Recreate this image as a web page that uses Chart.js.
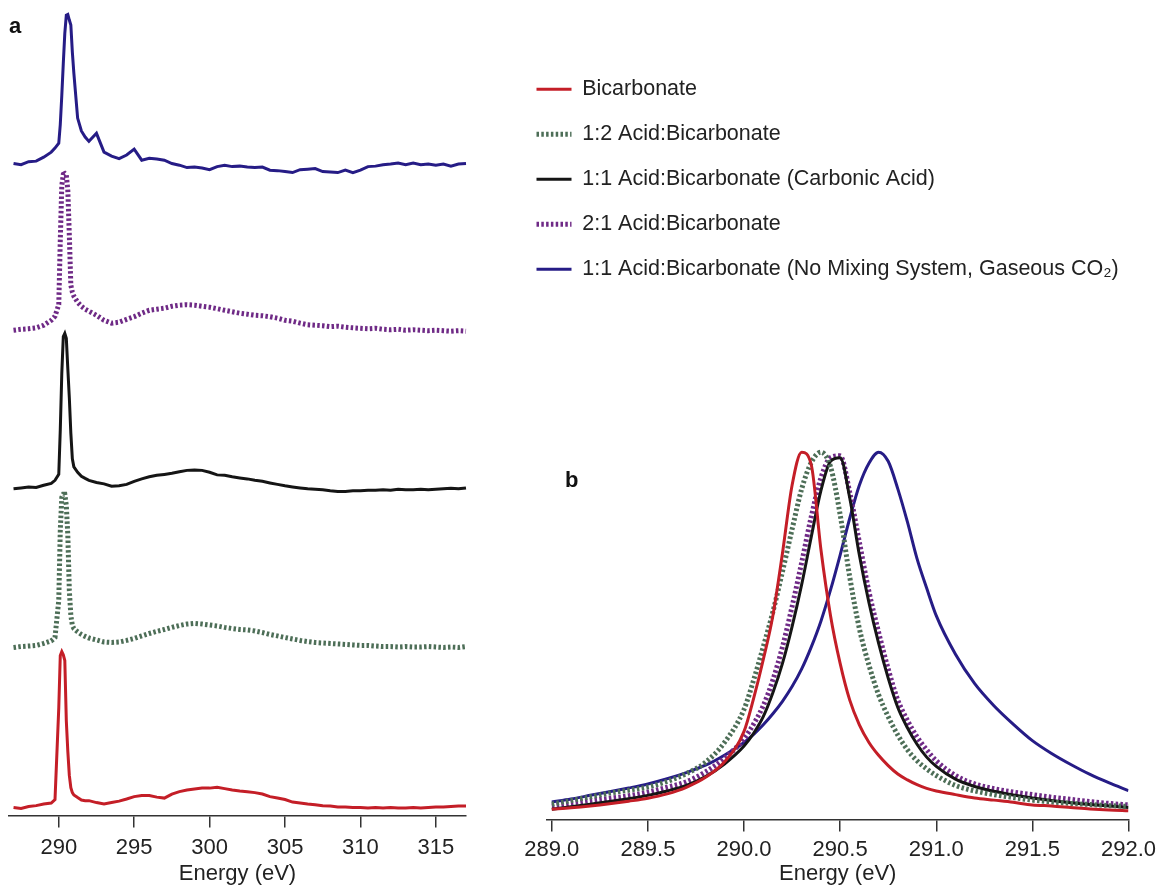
<!DOCTYPE html>
<html>
<head>
<meta charset="utf-8">
<script src="https://cdn.jsdelivr.net/npm/chart.js@4.4.1/dist/chart.umd.min.js"></script>
<style>
  body { margin: 0; background: #fff; }
  #page { position: relative; width: 1161px; height: 885px; overflow: hidden; font-family: "Liberation Sans", Arial, sans-serif; }
  canvas { position: absolute; }
  .panel { position: absolute; font-weight: bold; font-size: 22px; line-height: 22px; color: #111; }
</style>
</head>
<body>
<div id="page">
  <canvas id="spectraChart" width="480" height="885" style="left:0px;top:0px"></canvas>
  <canvas id="legendChart" width="648" height="270" style="left:513px;top:55px"></canvas>
  <canvas id="peakChart" width="661" height="455" style="left:500px;top:430px"></canvas>
  <div class="panel" style="left:9px;top:15px">a</div>
  <div class="panel" style="left:565px;top:469px">b</div>
</div>
<script>
const seriesNames = [
  "Bicarbonate",
  "1:2 Acid:Bicarbonate",
  "1:1 Acid:Bicarbonate (Carbonic Acid)",
  "2:1 Acid:Bicarbonate",
  "1:1 Acid:Bicarbonate (No Mixing System, Gaseous CO₂)",
];
const seriesColors = ["#c41e27", "#4d6e57", "#151515", "#6f2a86", "#261c86"];
const dotted = [false, true, false, true, false];

// panel a: full spectra, each trace normalised to its own band
const energyA = [287, 287.5, 288, 288.5, 289, 289.5, 289.75,
  290, 290.1, 290.2, 290.3, 290.4, 290.5, 290.6, 290.7, 290.8, 290.9, 291,
  291.25, 291.5, 291.75, 292, 292.5, 293, 293.5, 294, 294.5, 295, 295.5, 296, 296.5,
  297, 297.5, 298, 298.5, 299, 299.5, 300, 300.5, 301, 301.5, 302, 302.5, 303, 303.5,
  304, 304.5, 305, 305.5, 306, 306.5, 307, 307.5, 308, 308.5, 309, 309.5, 310, 310.5,
  311, 311.5, 312, 312.5, 313, 313.5, 314, 314.5, 315, 315.5, 316, 316.5, 317];
const bicarbA = [.050, .044, .056, .062, .072, .078, .100,
  .67, .996, 1.02, 1.0, .965, .59, .40, .25, .174, .143, .128,
  .112, .097, .093, .093, .081, .072, .081, .090, .103, .118, .125, .125, .115,
  .109, .134, .149, .159, .165, .171, .171, .177, .168, .159, .153, .149, .143, .134,
  .118, .109, .100, .084, .078, .072, .068, .062, .059, .053, .053, .050, .050, .047,
  .050, .047, .050, .047, .047, .050, .047, .050, .053, .053, .056, .059, .059];
const acid12A = [.046, .052, .055, .059, .071, .087, .108,
  .34, .775, .98, .999, .999, .93, .743, .401, .245, .183, .164,
  .143, .127, .115, .105, .093, .080, .077, .080, .090, .102, .118, .133, .146,
  .158, .171, .183, .192, .196, .192, .186, .180, .171, .164, .158, .155, .149, .139,
  .127, .118, .108, .099, .090, .083, .077, .074, .071, .068, .065, .062, .059, .059,
  .055, .052, .052, .049, .052, .049, .049, .052, .049, .046, .049, .046, .052];
const acid11A = [.034, .039, .045, .042, .055, .067, .086,
  .123, .40, .75, .98, 1.0, .97, .78, .60, .38, .22, .17,
  .136, .111, .098, .086, .073, .064, .049, .052, .061, .080, .095, .108, .117,
  .123, .130, .139, .148, .151, .148, .136, .120, .117, .108, .101, .095, .086, .080,
  .070, .061, .052, .045, .039, .033, .030, .027, .021, .017, .017, .021, .021, .024,
  .024, .027, .024, .030, .027, .027, .030, .027, .030, .033, .036, .033, .039];
const acid21A = [.020, .026, .029, .035, .051, .082, .107,
  .18, .58, .92, .99, .995, .985, .89, .61, .30, .257, .232,
  .194, .169, .151, .138, .113, .082, .064, .070, .088, .104, .126, .144, .151,
  .157, .169, .176, .179, .176, .169, .163, .154, .144, .135, .126, .120, .113, .110,
  .104, .095, .082, .076, .064, .054, .051, .048, .042, .045, .039, .035, .032, .029,
  .032, .026, .023, .026, .020, .023, .020, .017, .020, .017, .014, .017, .014];
const noMixA = [.058, .050, .069, .072, .097, .128, .153,
  .184, .30, .48, .68, .867, .98, .985, .95, .919, .75, .62,
  .34, .26, .222, .195, .245, .128, .103, .088, .110, .147, .078, .090, .085,
  .078, .057, .047, .032, .035, .029, .019, .038, .047, .038, .041, .035, .032, .035,
  .016, .013, .007, .001, .019, .022, .026, .007, .004, .001, .016, .001, .016, .038,
  .041, .050, .054, .060, .050, .060, .050, .054, .047, .054, .041, .054, .057];
const ticksA = [290, 295, 300, 305, 310, 315];

// panel b: normalised C 1s peaks
const energyB = [289.0, 289.1, 289.2, 289.3, 289.4, 289.5, 289.6, 289.7, 289.8, 289.9,
  290.0, 290.05, 290.1, 290.15, 290.2, 290.25, 290.3, 290.35, 290.4, 290.45, 290.5,
  290.55, 290.6, 290.65, 290.7, 290.75, 290.8, 290.85, 290.9, 290.95, 291.0,
  291.1, 291.2, 291.3, 291.4, 291.5, 291.6, 291.7, 291.8, 291.9, 292.0];
const bicarbB = [.028, .032, .037, .043, .050, .058, .070, .088, .115, .158,
  .24, .33, .435, .555, .725, .91, 1.0, .965, .735, .555, .425,
  .325, .258, .21, .175, .147, .124, .108, .095, .085, .078,
  .068, .059, .053, .047, .040, .037, .033, .029, .026, .024];
const acid12B = [.042, .052, .062, .072, .080, .089, .104, .125, .156, .211,
  .30, .38, .47, .565, .675, .79, .90, .972, 1.0, .96, .83,
  .66, .52, .42, .34, .28, .23, .19, .16, .138, .12,
  .093, .078, .068, .060, .053, .048, .044, .041, .038, .036];
const acid11B = [.028, .035, .042, .049, .057, .066, .078, .093, .117, .152,
  .20, .235, .28, .345, .425, .525, .64, .77, .895, .975, .985,
  .875, .72, .59, .48, .385, .305, .25, .205, .17, .145,
  .11, .09, .077, .067, .059, .052, .046, .041, .037, .033];
const acid21B = [.037, .045, .052, .058, .065, .075, .088, .103, .13, .168,
  .22, .26, .31, .38, .47, .58, .70, .825, .93, .985, .99,
  .89, .755, .62, .51, .41, .325, .27, .225, .19, .16,
  .12, .097, .084, .075, .068, .061, .055, .049, .044, .040];
const noMixB = [.048, .056, .066, .076, .086, .097, .111, .128, .148, .176,
  .21, .232, .258, .288, .322, .362, .41, .47, .54, .625, .72,
  .82, .91, .97, 1.0, .975, .90, .81, .71, .63, .555,
  .45, .37, .31, .26, .215, .18, .15, .123, .10, .079];
const ticksB = [289.0, 289.5, 290.0, 290.5, 291.0, 291.5, 292.0];

const seriesA = [bicarbA, acid12A, acid11A, acid21A, noMixA];
const seriesB = [bicarbB, acid12B, acid11B, acid21B, noMixB];
const bandIds = ["yBicarb", "yAcid12", "yAcid11", "yAcid21", "yNoMix"];

const font = { family: '"Liberation Sans", Arial, sans-serif', size: 22 };
Chart.defaults.font.family = font.family;
Chart.defaults.color = "#222";

function lineStyle(i, solidWidth) {
  if (dotted[i]) {
    return { borderColor: seriesColors[i], borderWidth: 5, borderDash: [2.5, 2.3] };
  }
  return { borderColor: seriesColors[i], borderWidth: solidWidth };
}

function energyAxis(min, max, ticks, decimals, tickPad, titlePad) {
  return {
    type: "linear",
    min,
    max,
    afterBuildTicks: (axis) => { axis.ticks = ticks.map((v) => ({ value: v })); },
    grid: { drawOnChartArea: false, drawTicks: true, tickLength: 12, color: "#333", lineWidth: 1.5 },
    border: { color: "#333", width: 1.5 },
    ticks: { color: "#222", font, padding: tickPad, maxRotation: 0, autoSkip: false, callback: (v) => Number(v).toFixed(decimals) },
    title: { display: true, text: "Energy (eV)", color: "#222", font: { ...font, lineHeight: 1 }, padding: { top: titlePad, bottom: 0 } },
  };
}

const noPlugins = { legend: { display: false }, tooltip: { enabled: false } };

// a: stacked bands, bottom band first
const scalesA = { x: energyAxis(286.7, 317, ticksA, 0, 7, -5) };
bandIds.forEach((id) => {
  scalesA[id] = { type: "linear", display: false, min: 0, max: 1, stack: "spectra", stackWeight: 1 };
});

new Chart(document.getElementById("spectraChart"), {
  type: "line",
  data: {
    datasets: seriesA.map((vals, i) => ({
      label: seriesNames[i],
      data: energyA.map((e, k) => ({ x: e, y: vals[k] })),
      yAxisID: bandIds[i],
      pointRadius: 0,
      tension: 0,
      clip: false,
      ...lineStyle(i, 3),
    })),
  },
  options: {
    responsive: false,
    animation: false,
    layout: { padding: { left: 9, right: 14, top: 12, bottom: 0 } },
    plugins: noPlugins,
    scales: scalesA,
  },
});

// b: overlaid peaks
new Chart(document.getElementById("peakChart"), {
  type: "line",
  data: {
    datasets: seriesB.map((vals, i) => ({
      label: seriesNames[i],
      data: energyB.map((e, k) => ({ x: e, y: vals[k] })),
      pointRadius: 0,
      cubicInterpolationMode: "monotone",
      ...lineStyle(i, 3),
    })),
  },
  options: {
    responsive: false,
    animation: false,
    layout: { padding: { left: 47, right: 32, top: 10, bottom: 0 } },
    plugins: noPlugins,
    scales: {
      x: energyAxis(288.975, 292.0, ticksB, 1, 5, -5),
      y: { display: false, min: 0, max: 1.033 },
    },
  },
});

// shared legend (point-style legend items lose the dash, so copy it back)
new Chart(document.getElementById("legendChart"), {
  type: "line",
  data: {
    datasets: seriesNames.map((name, i) => ({ label: name, data: [], ...lineStyle(i, 3) })),
  },
  options: {
    responsive: false,
    animation: false,
    scales: { x: { display: false }, y: { display: false } },
    plugins: {
      tooltip: { enabled: false },
      legend: {
        position: "left",
        align: "start",
        maxWidth: 1000,
        labels: {
          usePointStyle: true,
          pointStyle: "line",
          pointStyleWidth: 35,
          padding: 23.5,
          color: "#222",
          font: { ...font, size: 21.5 },
          generateLabels: (chart) =>
            Chart.defaults.plugins.legend.labels.generateLabels(chart).map((item) => ({
              ...item,
              lineDash: chart.data.datasets[item.datasetIndex].borderDash || [],
            })),
        },
      },
    },
  },
});
</script>
</body>
</html>
